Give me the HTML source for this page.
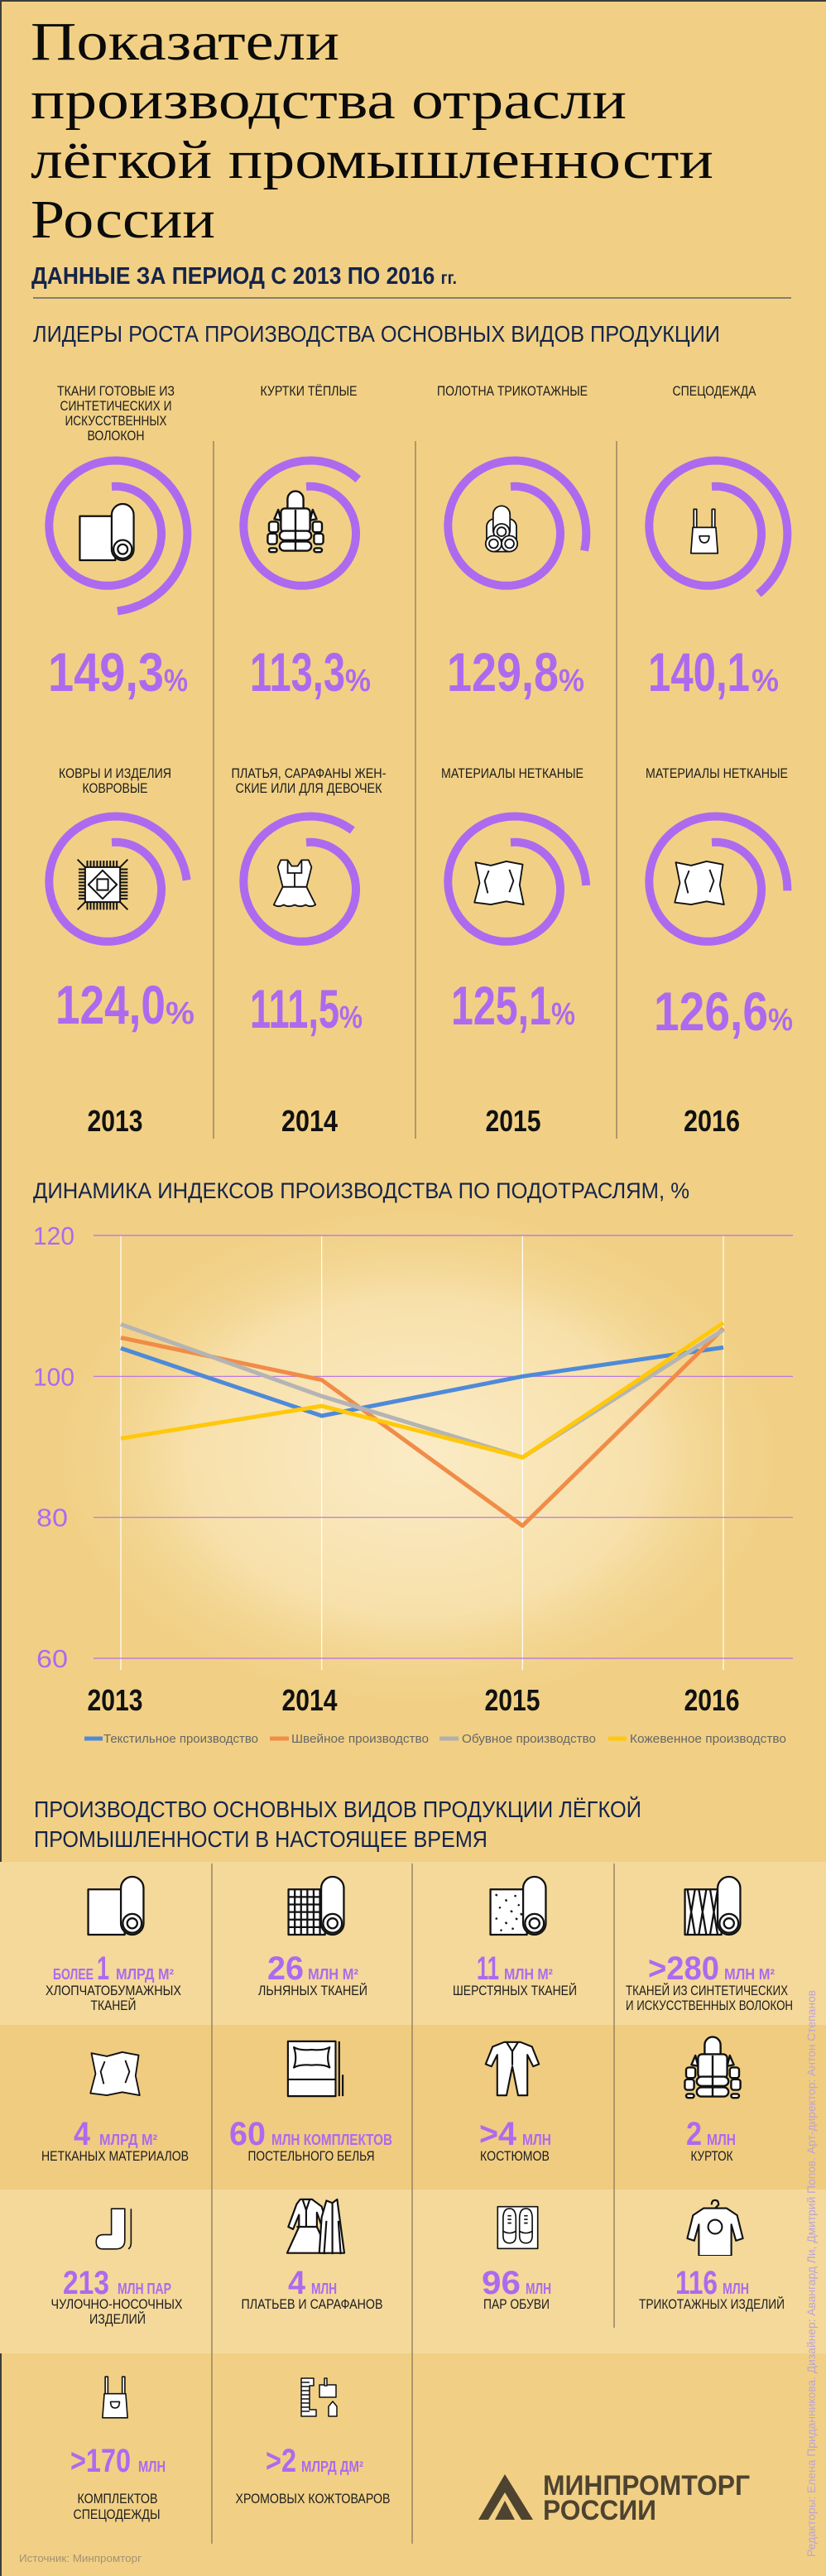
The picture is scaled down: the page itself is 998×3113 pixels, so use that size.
<!DOCTYPE html>
<html lang="ru">
<head>
<meta charset="utf-8">
<title>Показатели производства отрасли лёгкой промышленности России</title>
<style>
html,body{margin:0;padding:0;background:#F1D085;}
svg{display:block;}
.sans{font-family:"Liberation Sans","DejaVu Sans",sans-serif;}
.serif{font-family:"Liberation Serif","DejaVu Serif",serif;}
.lbl{font-family:"Liberation Sans",sans-serif;font-size:17px;fill:#1c1c1c;text-anchor:middle;}
.pct{font-family:"Liberation Sans",sans-serif;font-weight:bold;fill:#AD6AEE;}
.yr{font-family:"Liberation Sans",sans-serif;font-weight:bold;font-size:36px;fill:#111;text-anchor:middle;}
.big{font-family:"Liberation Sans",sans-serif;font-weight:bold;font-size:40px;fill:#AD6AEE;}
.unit{font-family:"Liberation Sans",sans-serif;font-weight:bold;font-size:18px;fill:#AD6AEE;}
.ic{fill:#fff;stroke:#111;stroke-width:3;stroke-linejoin:round;}
.icl{fill:none;stroke:#111;stroke-width:3;}
</style>
</head>
<body>
<svg id="page" width="998" height="3113" viewBox="0 0 998 3113" xmlns="http://www.w3.org/2000/svg">
<defs>
  <radialGradient id="glow" cx="0.5" cy="0.5" r="0.5">
    <stop offset="0" stop-color="#FBEBC6"/>
    <stop offset="0.6" stop-color="#F7E0AA"/>
    <stop offset="1" stop-color="#F1D085" stop-opacity="0"/>
  </radialGradient>
  <symbol id="i-roll" viewBox="0 0 100 100">
    <rect class="ic" x="6" y="24" width="58" height="72"/>
    <rect class="ic" x="58" y="4" width="36" height="92" rx="18"/>
    <circle class="ic" cx="76" cy="78" r="15"/><circle class="ic" cx="76" cy="78" r="8"/>
  </symbol>
  <symbol id="i-roll-grid" viewBox="0 0 100 100">
    <rect class="ic" x="6" y="24" width="58" height="72"/>
    <path class="icl" stroke-width="2" d="M6 36H62M6 48H62M6 60H62M6 72H62M6 84H62M16 24V96M26 24V96M36 24V96M46 24V96M56 24V96"/>
    <rect class="ic" x="58" y="4" width="36" height="92" rx="18"/>
    <circle class="ic" cx="76" cy="78" r="15"/><circle class="ic" cx="76" cy="78" r="8"/>
  </symbol>
  <symbol id="i-roll-dots" viewBox="0 0 100 100">
    <rect class="ic" x="6" y="24" width="58" height="72"/>
    <path class="icl" stroke-width="2.5" d="M14 32l3 2M30 40l2 3M44 34l3 1M20 52l2 2M38 58l3 2M50 48l2 2M14 70l3 1M30 76l2 3M46 70l3 2M22 88l2 2M40 86l3 1M54 62l2 3"/>
    <rect class="ic" x="58" y="4" width="36" height="92" rx="18"/>
    <circle class="ic" cx="76" cy="78" r="15"/><circle class="ic" cx="76" cy="78" r="8"/>
  </symbol>
  <symbol id="i-roll-zig" viewBox="0 0 100 100">
    <rect class="ic" x="6" y="24" width="58" height="72"/>
    <path class="icl" stroke-width="2.5" d="M10 24l6 36-6 36M22 24l-6 36 6 36M28 24l6 36-6 36M40 24l-6 36 6 36M46 24l6 36-6 36M58 24l-6 36 6 36"/>
    <rect class="ic" x="58" y="4" width="36" height="92" rx="18"/>
    <circle class="ic" cx="76" cy="78" r="15"/><circle class="ic" cx="76" cy="78" r="8"/>
  </symbol>
  <symbol id="i-jacket" viewBox="0 0 100 100">
    <path class="ic" d="M38 30V14a12 12 0 0 1 24 0V30z"/>
    <rect class="ic" x="28" y="28" width="44" height="36" rx="6"/>
    <rect class="ic" x="26" y="62" width="48" height="14" rx="7"/>
    <rect class="ic" x="26" y="78" width="48" height="14" rx="7"/>
    <path class="ic" d="M18 44l6-14 4 16zM82 44l-6-14-4 16z"/>
    <rect class="ic" x="10" y="48" width="14" height="16" rx="4"/><rect class="ic" x="76" y="48" width="14" height="16" rx="4"/>
    <rect class="ic" x="8" y="66" width="14" height="16" rx="4"/><rect class="ic" x="78" y="66" width="14" height="16" rx="4"/>
    <rect class="ic" x="10" y="88" width="12" height="6" rx="3"/><rect class="ic" x="78" y="88" width="12" height="6" rx="3"/>
    <path class="icl" d="M50 30V92"/>
  </symbol>
  <symbol id="i-rolls3" viewBox="0 0 100 100">
    <rect class="ic" x="20" y="30" width="60" height="66" rx="16"/>
    <rect class="ic" x="33" y="4" width="34" height="66" rx="17"/>
    <circle class="ic" cx="50" cy="56" r="16"/><circle class="ic" cx="50" cy="56" r="9"/>
    <circle class="ic" cx="34" cy="80" r="16"/><circle class="ic" cx="34" cy="80" r="9"/>
    <circle class="ic" cx="66" cy="80" r="16"/><circle class="ic" cx="66" cy="80" r="9"/>
  </symbol>
  <symbol id="i-apron" viewBox="0 0 100 100">
    <path class="ic" d="M28 4h6v40h-6zM66 4h6v40h-6z"/>
    <path class="ic" d="M26 42h48l4 54H22z"/>
    <path class="ic" d="M40 60h20q0 14-10 14t-10-14z"/>
  </symbol>
  <symbol id="i-carpet" viewBox="0 0 100 100">
    <path class="icl" stroke-width="2.5" d="M4 4L96 96M96 4L4 96M22 6v90M28 6v90M34 6v90M40 6v90M46 6v90M52 6v90M58 6v90M64 6v90M70 6v90M76 6v90M6 22h90M6 28h90M6 34h90M6 40h90M6 46h90M6 52h90M6 58h90M6 64h90M6 70h90M6 76h90"/>
    <rect class="ic" x="18" y="18" width="64" height="64"/>
    <path class="ic" d="M50 24L76 50 50 76 24 50z"/>
    <rect class="ic" x="40" y="40" width="20" height="20"/>
  </symbol>
  <symbol id="i-dress" viewBox="0 0 100 100">
    <path class="ic" d="M22 4h14l8 12h12l8-12h14l6 14-10 40H26L16 18z"/>
    <path class="icl" d="M36 4v26h28V4M50 30v28"/>
    <path class="ic" d="M26 58h48l18 36q-10 6-20 0-10 6-22 0-12 6-22 0-10 6-20 0z"/>
  </symbol>
  <symbol id="i-nonwoven" viewBox="0 0 100 100">
    <path class="ic" d="M4 10l30 6 30-8 32 6-6 40 8 38-34-6-30 6-32-4 10-38z"/>
    <path class="icl" d="M30 26l-8 20 6 24M70 24l8 22-8 22"/>
  </symbol>
  <symbol id="i-bed" viewBox="0 0 100 100">
    <rect class="ic" x="4" y="4" width="80" height="92"/>
    <path class="ic" d="M14 14q10 6 30 4q20 2 30-4q-6 18 0 34q-10-6-30-4q-20-2-30 4q6-16 0-34z"/>
    <path class="icl" d="M4 68H84M90 4V96M96 60V96"/>
  </symbol>
  <symbol id="i-suit" viewBox="0 0 100 100">
    <path class="ic" d="M36 4h28l20 8 12 30-10 4-10-20v70H60L50 46 40 96H24V26L14 46 4 42l12-30z"/>
    <path class="icl" d="M40 4l10 16 10-16M50 20v24"/>
  </symbol>
  <symbol id="i-sock" viewBox="0 0 100 100">
    <path class="ic" d="M40 6h30v70q0 20-20 20H22q-16 0-16-16t16-16h18z"/>
    <path class="icl" d="M84 6v76q0 10-6 14"/>
  </symbol>
  <symbol id="i-dresses" viewBox="0 0 100 100">
    <path class="ic" d="M26 4h20l16 12 10 34-8 4-10-28v24l20 44H4l20-44V30L14 54 6 50l14-38z"/>
    <path class="icl" d="M30 4l6 18 6-18M36 22v28M20 50h34"/>
    <path class="ic" d="M70 6l10 4 8-6 4 30 8 60H58l4-60z"/>
    <path class="icl" d="M80 10v86M70 40l-4 56M90 40l4 56"/>
  </symbol>
  <symbol id="i-shoes" viewBox="0 0 100 100">
    <rect class="ic" x="6" y="4" width="88" height="92"/>
    <path class="ic" d="M18 30q0-22 14-22t14 22v38q0 16-14 16T18 68zM54 30q0-22 14-22t14 22v38q0 16-14 16T54 68z"/>
    <path class="icl" d="M18 58q14 8 28 0M54 58q14 8 28 0M28 24h8M28 32h8M28 40h8M64 24h8M64 32h8M64 40h8"/>
  </symbol>
  <symbol id="i-shirt" viewBox="0 0 100 100">
    <path class="icl" d="M44 12q0-8 6-8t6 8l-6 6"/>
    <path class="ic" d="M30 18h40l18 12 10 40-12 4-8-28v54H22V46l-8 28-12-4 10-40z"/>
    <circle class="ic" cx="50" cy="50" r="12"/>
  </symbol>
  <symbol id="i-leather" viewBox="0 0 100 100">
    <path class="ic" d="M8 4h30v18h-10v58h16v16H8z"/>
    <path class="icl" stroke-width="2.5" d="M8 14h20M8 24h20M8 34h20M8 44h20M8 54h20M8 64h20M8 74h20M8 84h20"/>
    <path class="ic" d="M52 20h40v30H52z"/>
    <path class="ic" d="M64 4h6v18h-6zM84 60l10 12v24H74V72z"/>
  </symbol>
</defs>

<rect x="0" y="0" width="998" height="3113" fill="#F1D085"/>
<path d="M1 3113V1H998" fill="none" stroke="#3d3d3d" stroke-width="2"/>

<!-- TITLE -->
<g class="serif" font-size="66" fill="#0b0b0b">
  <text x="37" y="72" textLength="373" lengthAdjust="spacingAndGlyphs">Показатели</text>
  <text x="37" y="143" textLength="720" lengthAdjust="spacingAndGlyphs">производства отрасли</text>
  <text x="37" y="215" textLength="825" lengthAdjust="spacingAndGlyphs">лёгкой промышленности</text>
  <text x="37" y="287" textLength="223" lengthAdjust="spacingAndGlyphs">России</text>
</g>
<text class="sans" x="38" y="343" font-size="29" font-weight="bold" fill="#14244A" textLength="514" lengthAdjust="spacingAndGlyphs">ДАННЫЕ ЗА ПЕРИОД С 2013 ПО 2016 <tspan font-size="21">гг.</tspan></text>
<line x1="40" y1="360" x2="956" y2="360" stroke="#85806E" stroke-width="2"/>
<text class="sans" x="40" y="413" font-size="28" fill="#14244A" textLength="830" lengthAdjust="spacingAndGlyphs">ЛИДЕРЫ РОСТА ПРОИЗВОДСТВА ОСНОВНЫХ ВИДОВ ПРОДУКЦИИ</text>

<!-- leader columns dividers -->
<g stroke="#8a7a5a" stroke-width="1.3">
  <line x1="258" y1="533" x2="258" y2="1376"/>
  <line x1="502" y1="533" x2="502" y2="1376"/>
  <line x1="745" y1="533" x2="745" y2="1376"/>
</g>

<!-- leader labels -->
<g>
  <text class="lbl" x="140" y="478" textLength="142" lengthAdjust="spacingAndGlyphs">ТКАНИ ГОТОВЫЕ ИЗ</text>
  <text class="lbl" x="140" y="496" textLength="135" lengthAdjust="spacingAndGlyphs">СИНТЕТИЧЕСКИХ И</text>
  <text class="lbl" x="140" y="514" textLength="123" lengthAdjust="spacingAndGlyphs">ИСКУССТВЕННЫХ</text>
  <text class="lbl" x="140" y="532" textLength="69" lengthAdjust="spacingAndGlyphs">ВОЛОКОН</text>
  <text class="lbl" x="373" y="478" textLength="117" lengthAdjust="spacingAndGlyphs">КУРТКИ ТЁПЛЫЕ</text>
  <text class="lbl" x="619" y="478" textLength="182" lengthAdjust="spacingAndGlyphs">ПОЛОТНА ТРИКОТАЖНЫЕ</text>
  <text class="lbl" x="863" y="478" textLength="101" lengthAdjust="spacingAndGlyphs">СПЕЦОДЕЖДА</text>
  <text class="lbl" x="139" y="940" textLength="136" lengthAdjust="spacingAndGlyphs">КОВРЫ И ИЗДЕЛИЯ</text>
  <text class="lbl" x="139" y="958" textLength="79" lengthAdjust="spacingAndGlyphs">КОВРОВЫЕ</text>
  <text class="lbl" x="373" y="940" textLength="187" lengthAdjust="spacingAndGlyphs">ПЛАТЬЯ, САРАФАНЫ ЖЕН-</text>
  <text class="lbl" x="373" y="958" textLength="177" lengthAdjust="spacingAndGlyphs">СКИЕ ИЛИ ДЛЯ ДЕВОЧЕК</text>
  <text class="lbl" x="619" y="940" textLength="172" lengthAdjust="spacingAndGlyphs">МАТЕРИАЛЫ НЕТКАНЫЕ</text>
  <text class="lbl" x="866" y="940" textLength="172" lengthAdjust="spacingAndGlyphs">МАТЕРИАЛЫ НЕТКАНЫЕ</text>
</g>

<g id="spirals"></g>

<!-- leader icons -->
<g>
  <use href="#i-roll" x="92" y="605" width="74" height="76"/>
  <use href="#i-jacket" x="317" y="592" width="80" height="80"/>
  <use href="#i-rolls3" x="576" y="598" width="60" height="82"/>
  <use href="#i-apron" x="822" y="603" width="58" height="78"/>
  <use href="#i-carpet" x="83" y="1036" width="82" height="66"/>
  <use href="#i-dress" x="326" y="1030" width="60" height="74"/>
  <use href="#i-nonwoven" x="567" y="1036" width="72" height="62"/>
  <use href="#i-nonwoven" x="809" y="1036" width="72" height="62"/>
</g>

<!-- leader values -->
<g>
  <text class="pct" x="58" y="835" font-size="66" textLength="140" lengthAdjust="spacingAndGlyphs">149,3</text><text class="pct" x="198" y="835" font-size="38" textLength="29" lengthAdjust="spacingAndGlyphs">%</text>
  <text class="pct" x="302" y="835" font-size="66" textLength="115" lengthAdjust="spacingAndGlyphs">113,3</text><text class="pct" x="417" y="835" font-size="38" textLength="31" lengthAdjust="spacingAndGlyphs">%</text>
  <text class="pct" x="540" y="835" font-size="66" textLength="135" lengthAdjust="spacingAndGlyphs">129,8</text><text class="pct" x="675" y="835" font-size="38" textLength="31" lengthAdjust="spacingAndGlyphs">%</text>
  <text class="pct" x="783" y="835" font-size="66" textLength="123" lengthAdjust="spacingAndGlyphs">140,1</text><text class="pct" x="908" y="835" font-size="38" textLength="33" lengthAdjust="spacingAndGlyphs">%</text>
  <text class="pct" x="67" y="1237" font-size="66" textLength="133" lengthAdjust="spacingAndGlyphs">124,0</text><text class="pct" x="200" y="1237" font-size="38" textLength="35" lengthAdjust="spacingAndGlyphs">%</text>
  <text class="pct" x="302" y="1242" font-size="66" textLength="108" lengthAdjust="spacingAndGlyphs">111,5</text><text class="pct" x="410" y="1242" font-size="38" textLength="28" lengthAdjust="spacingAndGlyphs">%</text>
  <text class="pct" x="545" y="1238" font-size="66" textLength="121" lengthAdjust="spacingAndGlyphs">125,1</text><text class="pct" x="666" y="1238" font-size="38" textLength="29" lengthAdjust="spacingAndGlyphs">%</text>
  <text class="pct" x="790" y="1245" font-size="66" textLength="138" lengthAdjust="spacingAndGlyphs">126,6</text><text class="pct" x="928" y="1245" font-size="38" textLength="30" lengthAdjust="spacingAndGlyphs">%</text>
</g>

<g>
  <text class="yr" x="139" y="1367" textLength="67" lengthAdjust="spacingAndGlyphs">2013</text>
  <text class="yr" x="374" y="1367" textLength="68" lengthAdjust="spacingAndGlyphs">2014</text>
  <text class="yr" x="620" y="1367" textLength="67" lengthAdjust="spacingAndGlyphs">2015</text>
  <text class="yr" x="860" y="1367" textLength="68" lengthAdjust="spacingAndGlyphs">2016</text>
</g>

<!-- CHART -->
<rect x="40" y="1440" width="930" height="640" fill="url(#glow)"/>
<text class="sans" x="40" y="1448" font-size="27" fill="#14244A" textLength="793" lengthAdjust="spacingAndGlyphs">ДИНАМИКА ИНДЕКСОВ ПРОИЗВОДСТВА ПО ПОДОТРАСЛЯМ, %</text>
<g id="chart"></g>

<g class="sans" font-size="15" fill="#666">
  <g><line x1="102" y1="2101" x2="124" y2="2101" stroke="#4E8AD8" stroke-width="5"/><text x="125" y="2106" textLength="187" lengthAdjust="spacingAndGlyphs">Текстильное производство</text></g>
  <g><line x1="326" y1="2101" x2="349" y2="2101" stroke="#F08C48" stroke-width="5"/><text x="352" y="2106" textLength="166" lengthAdjust="spacingAndGlyphs">Швейное производство</text></g>
  <g><line x1="531" y1="2101" x2="554" y2="2101" stroke="#B0B0B0" stroke-width="5"/><text x="558" y="2106" textLength="162" lengthAdjust="spacingAndGlyphs">Обувное производство</text></g>
  <g><line x1="735" y1="2101" x2="757" y2="2101" stroke="#FFC80A" stroke-width="5"/><text x="761" y="2106" textLength="189" lengthAdjust="spacingAndGlyphs">Кожевенное производство</text></g>
</g>

<!-- PRODUCTION SECTION -->
<text class="sans" font-size="28" fill="#14244A">
  <tspan x="41" y="2196" textLength="734" lengthAdjust="spacingAndGlyphs">ПРОИЗВОДСТВО ОСНОВНЫХ ВИДОВ ПРОДУКЦИИ ЛЁГКОЙ</tspan>
  <tspan x="41" y="2232" textLength="548" lengthAdjust="spacingAndGlyphs">ПРОМЫШЛЕННОСТИ В НАСТОЯЩЕЕ ВРЕМЯ</tspan>
</text>
<g>
  <rect x="0" y="2250" width="998" height="197" fill="#F4D99B"/>
  <rect x="0" y="2447" width="998" height="199" fill="#F0CC80"/>
  <rect x="0" y="2646" width="998" height="198" fill="#F4D99B"/>
</g>
<g stroke="#8a7a5a" stroke-width="1.3">
  <line x1="256" y1="2252" x2="256" y2="3074"/>
  <line x1="498" y1="2252" x2="498" y2="3074"/>
  <line x1="742" y1="2252" x2="742" y2="2813"/>
</g>
<g>
  <use href="#i-roll" x="102" y="2265" width="76" height="76"/>
  <use href="#i-roll-grid" x="344" y="2265" width="76" height="76"/>
  <use href="#i-roll-dots" x="588" y="2265" width="76" height="76"/>
  <use href="#i-roll-zig" x="823" y="2265" width="76" height="76"/>
  <use href="#i-nonwoven" x="103" y="2475" width="72" height="62"/>
  <use href="#i-bed" x="345" y="2462" width="72" height="76"/>
  <use href="#i-suit" x="584" y="2462" width="70" height="76"/>
  <use href="#i-jacket" x="821" y="2460" width="80" height="80"/>
  <use href="#i-sock" x="113" y="2660" width="54" height="66"/>
  <use href="#i-dresses" x="342" y="2655" width="76" height="72"/>
  <use href="#i-shoes" x="598" y="2656" width="55" height="72"/>
  <use href="#i-shirt" x="829" y="2656" width="70" height="70"/>
  <use href="#i-apron" x="112" y="2860" width="54" height="74"/>
  <use href="#i-leather" x="360" y="2860" width="50" height="74"/>
</g>
<g>
  <text class="unit" x="64" y="2392" textLength="49" lengthAdjust="spacingAndGlyphs">БОЛЕЕ</text><text class="big" x="117" y="2392" textLength="15" lengthAdjust="spacingAndGlyphs">1</text><text class="unit" x="140" y="2392" textLength="70" lengthAdjust="spacingAndGlyphs">МЛРД М²</text>
  <text class="lbl" x="137" y="2411" textLength="164" lengthAdjust="spacingAndGlyphs">ХЛОПЧАТОБУМАЖНЫХ</text><text class="lbl" x="137" y="2429" textLength="55" lengthAdjust="spacingAndGlyphs">ТКАНЕЙ</text>

  <text class="big" x="323" y="2392" textLength="44" lengthAdjust="spacingAndGlyphs">26</text><text class="unit" x="372" y="2392" textLength="61" lengthAdjust="spacingAndGlyphs">МЛН М²</text>
  <text class="lbl" x="378" y="2411" textLength="132" lengthAdjust="spacingAndGlyphs">ЛЬНЯНЫХ ТКАНЕЙ</text>

  <text class="big" x="576" y="2392" textLength="27" lengthAdjust="spacingAndGlyphs">11</text><text class="unit" x="609" y="2392" textLength="59" lengthAdjust="spacingAndGlyphs">МЛН М²</text>
  <text class="lbl" x="622" y="2411" textLength="150" lengthAdjust="spacingAndGlyphs">ШЕРСТЯНЫХ ТКАНЕЙ</text>

  <text class="big" x="783" y="2392" textLength="86" lengthAdjust="spacingAndGlyphs">&gt;280</text><text class="unit" x="875" y="2392" textLength="61" lengthAdjust="spacingAndGlyphs">МЛН М²</text>
  <text class="lbl" x="854" y="2411" textLength="196" lengthAdjust="spacingAndGlyphs">ТКАНЕЙ ИЗ СИНТЕТИЧЕСКИХ</text><text class="lbl" x="857" y="2429" textLength="202" lengthAdjust="spacingAndGlyphs">И ИСКУССТВЕННЫХ ВОЛОКОН</text>

  <text class="big" x="89" y="2592" textLength="20" lengthAdjust="spacingAndGlyphs">4</text><text class="unit" x="120" y="2592" textLength="70" lengthAdjust="spacingAndGlyphs">МЛРД М²</text>
  <text class="lbl" x="139" y="2611" textLength="178" lengthAdjust="spacingAndGlyphs">НЕТКАНЫХ МАТЕРИАЛОВ</text>

  <text class="big" x="277" y="2592" textLength="44" lengthAdjust="spacingAndGlyphs">60</text><text class="unit" x="328" y="2592" textLength="146" lengthAdjust="spacingAndGlyphs">МЛН КОМПЛЕКТОВ</text>
  <text class="lbl" x="376" y="2611" textLength="153" lengthAdjust="spacingAndGlyphs">ПОСТЕЛЬНОГО БЕЛЬЯ</text>

  <text class="big" x="579" y="2592" textLength="45" lengthAdjust="spacingAndGlyphs">&gt;4</text><text class="unit" x="631" y="2592" textLength="35" lengthAdjust="spacingAndGlyphs">МЛН</text>
  <text class="lbl" x="622" y="2611" textLength="84" lengthAdjust="spacingAndGlyphs">КОСТЮМОВ</text>

  <text class="big" x="829" y="2592" textLength="19" lengthAdjust="spacingAndGlyphs">2</text><text class="unit" x="854" y="2592" textLength="35" lengthAdjust="spacingAndGlyphs">МЛН</text>
  <text class="lbl" x="860" y="2611" textLength="51" lengthAdjust="spacingAndGlyphs">КУРТОК</text>

  <text class="big" x="76" y="2772" textLength="56" lengthAdjust="spacingAndGlyphs">213</text><text class="unit" x="142" y="2772" textLength="65" lengthAdjust="spacingAndGlyphs">МЛН ПАР</text>
  <text class="lbl" x="141" y="2790" textLength="159" lengthAdjust="spacingAndGlyphs">ЧУЛОЧНО-НОСОЧНЫХ</text><text class="lbl" x="142" y="2808" textLength="68" lengthAdjust="spacingAndGlyphs">ИЗДЕЛИЙ</text>

  <text class="big" x="348" y="2772" textLength="21" lengthAdjust="spacingAndGlyphs">4</text><text class="unit" x="376" y="2772" textLength="31" lengthAdjust="spacingAndGlyphs">МЛН</text>
  <text class="lbl" x="377" y="2790" textLength="171" lengthAdjust="spacingAndGlyphs">ПЛАТЬЕВ И САРАФАНОВ</text>

  <text class="big" x="582" y="2772" textLength="47" lengthAdjust="spacingAndGlyphs">96</text><text class="unit" x="635" y="2772" textLength="31" lengthAdjust="spacingAndGlyphs">МЛН</text>
  <text class="lbl" x="624" y="2790" textLength="80" lengthAdjust="spacingAndGlyphs">ПАР ОБУВИ</text>

  <text class="big" x="816" y="2772" textLength="51" lengthAdjust="spacingAndGlyphs">116</text><text class="unit" x="873" y="2772" textLength="32" lengthAdjust="spacingAndGlyphs">МЛН</text>
  <text class="lbl" x="860" y="2790" textLength="176" lengthAdjust="spacingAndGlyphs">ТРИКОТАЖНЫХ ИЗДЕЛИЙ</text>

  <text class="big" x="85" y="2987" textLength="73" lengthAdjust="spacingAndGlyphs">&gt;170</text><text class="unit" x="167" y="2987" textLength="33" lengthAdjust="spacingAndGlyphs">МЛН</text>
  <text class="lbl" x="142" y="3025" textLength="97" lengthAdjust="spacingAndGlyphs">КОМПЛЕКТОВ</text><text class="lbl" x="141" y="3044" textLength="105" lengthAdjust="spacingAndGlyphs">СПЕЦОДЕЖДЫ</text>

  <text class="big" x="321" y="2987" textLength="37" lengthAdjust="spacingAndGlyphs">&gt;2</text><text class="unit" x="364" y="2987" textLength="75" lengthAdjust="spacingAndGlyphs">МЛРД ДМ²</text>
  <text class="lbl" x="378" y="3025" textLength="187" lengthAdjust="spacingAndGlyphs">ХРОМОВЫХ КОЖТОВАРОВ</text>
</g>

<!-- LOGO -->
<g>
  <path d="M610 2990L644 3045H630L610 3012L590 3045H578z" fill="#4E4330"/>
  <path d="M610 3022L622 3045H598z" fill="#4E4330"/>
  <text class="sans" x="656" y="3015" font-size="34" font-weight="bold" fill="#4E4330" textLength="250" lengthAdjust="spacingAndGlyphs">МИНПРОМТОРГ</text>
  <text class="sans" x="656" y="3045" font-size="34" font-weight="bold" fill="#4E4330" textLength="137" lengthAdjust="spacingAndGlyphs">РОССИИ</text>
</g>
<text class="sans" x="23" y="3096" font-size="13" fill="#A39272" textLength="148" lengthAdjust="spacingAndGlyphs">Источник: Минпромторг</text>
<text class="sans" font-size="14" fill="#BBA3D6" transform="translate(985 3090) rotate(-90)" textLength="685" lengthAdjust="spacingAndGlyphs">Редакторы: Елена Приданникова. Дизайнер: Авангард Ли, Дмитрий Попов.  Арт-директор: Антон Степанов</text>
</svg>

<script>
// ---- Leaders growth spirals ----
const leaderValues = [149.3, 113.3, 129.8, 140.1, 124.0, 111.5, 125.1, 126.6];
const leaderCenters = [[135,640],[370,640],[617,640],[860,640],[135,1070],[370,1070],[617,1070],[860,1070]];

// ---- Chart data ----
const chartYears = ['2013', '2014', '2015', '2016'];
const textileSeries = [104.0, 94.4, 100.0, 104.1];
const sewingSeries = [105.5, 99.5, 78.8, 106.8];
const footwearSeries = [107.4, 97.2, 88.5, 106.6];
const leatherSeries = [91.2, 95.8, 88.5, 107.6];
const yTickValues = [60, 80, 100, 120];

const NS = 'http://www.w3.org/2000/svg';

(function drawSpirals(){
  const g = document.getElementById('spirals');
  leaderValues.forEach(function(v, i){
    const cx = leaderCenters[i][0], cy = leaderCenters[i][1];
    const sweep = v / 100 * 360;
    let d = '';
    for (let t = 0; t <= sweep; t += 2) {
      const r = 52 + 0.087 * t;
      const a = t * Math.PI / 180;
      d += (t === 0 ? 'M' : 'L') + (cx + r * Math.sin(a)).toFixed(1) + ' ' + (cy - r * Math.cos(a)).toFixed(1);
    }
    const p = document.createElementNS(NS, 'path');
    
    
    p.setAttribute('d', d);
    p.setAttribute('fill', 'none');
    p.setAttribute('stroke', '#AD6AEE');
    p.setAttribute('stroke-width', '10');
    g.appendChild(p);
  });
})();

(function drawChart(){
  const g = document.getElementById('chart');
  const x0 = 146, x1 = 874, yTop = 1493, yBot = 2004, vMin = 60, vMax = 120;
  function xScale(i){ return x0 + i * (x1 - x0) / (chartYears.length - 1); }
  function yScale(v){ return yBot - (v - vMin) * (yBot - yTop) / (vMax - vMin); }

  chartYears.forEach(function(y, i){
    const l = document.createElementNS(NS, 'line');
    
    
    l.setAttribute('x1', xScale(i)); l.setAttribute('x2', xScale(i));
    l.setAttribute('y1', yTop); l.setAttribute('y2', yBot + 14);
    l.setAttribute('stroke', '#ffffff'); l.setAttribute('stroke-width', '1.2');
    g.appendChild(l);
    const t = document.createElementNS(NS, 'text');
    
    
    t.setAttribute('x', [139, 374, 619, 860][i]);
    t.setAttribute('y', 2067);
    t.setAttribute('class', 'yr');
    t.setAttribute('font-size', '34');
    t.setAttribute('textLength', '67');
    t.setAttribute('lengthAdjust', 'spacingAndGlyphs');
    t.textContent = y;
    g.appendChild(t);
  });

  yTickValues.forEach(function(v){
    const l = document.createElementNS(NS, 'line');
    
    
    l.setAttribute('x1', 113); l.setAttribute('x2', 958);
    l.setAttribute('y1', yScale(v)); l.setAttribute('y2', yScale(v));
    l.setAttribute('stroke', '#B46EE6'); l.setAttribute('stroke-width', '1.2');
    g.appendChild(l);
    const t = document.createElementNS(NS, 'text');
    
    
    t.setAttribute('x', v >= 100 ? 40 : 44);
    t.setAttribute('y', yScale(v) + 11);
    t.setAttribute('class', 'sans');
    t.setAttribute('font-size', '31');
    t.setAttribute('fill', '#AD6AEE');
    t.setAttribute('textLength', v >= 100 ? '50' : '38');
    t.setAttribute('lengthAdjust', 'spacingAndGlyphs');
    t.textContent = String(v);
    g.appendChild(t);
  });

  const series = [
    ['line-textile', textileSeries, '#4E8AD8'],
    ['line-sewing', sewingSeries, '#F08C48'],
    ['line-footwear', footwearSeries, '#B4B4B4'],
    ['line-leather', leatherSeries, '#FFC80A']
  ];
  series.forEach(function(s){
    const pts = s[1].map(function(v, i){ return xScale(i).toFixed(1) + ',' + yScale(v).toFixed(1); }).join(' ');
    const pl = document.createElementNS(NS, 'polyline');
    
    
    pl.setAttribute('points', pts);
    pl.setAttribute('fill', 'none');
    pl.setAttribute('stroke', s[2]);
    pl.setAttribute('stroke-width', '5');
    pl.setAttribute('stroke-linejoin', 'round');
    g.appendChild(pl);
  });
})();
</script>
</body>
</html>
